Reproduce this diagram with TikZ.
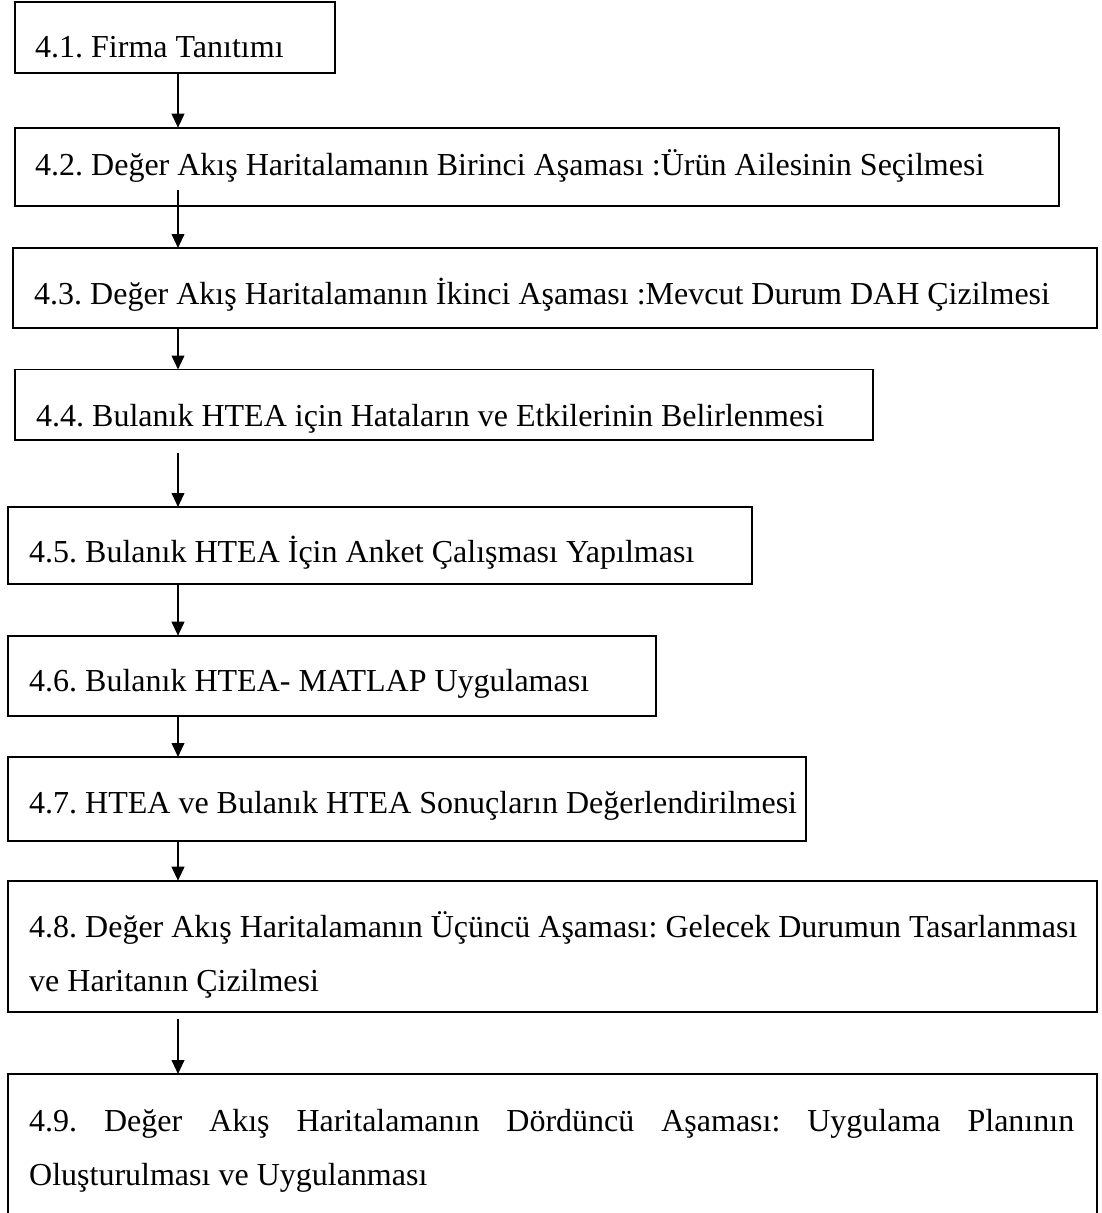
\documentclass[tikz,border=0pt]{standalone}
\usepackage{fontspec}
\setmainfont{Liberation Serif}
\frenchspacing
\usetikzlibrary{arrows.meta}
\tikzset{
	stepbox/.style={draw, line width=1.8pt, rectangle, anchor=north west, inner sep=0pt, outer sep=0pt},
	steptext/.style={anchor=base west, inner sep=0pt, font=\fontsize{32}{38}\selectfont},
	flow/.style={-{Triangle[width=12.7pt,length=14pt]}, line width=1.8pt}
}
\begin{document}
\begin{tikzpicture}[x=1pt,y=-1pt]
	\clip (0,0) rectangle (1101,1213);
			\def\ax{178}
			\coordinate (ax) at (\ax,0);

		\node[stepbox, minimum width=320pt, minimum height=70.7pt] (s1) at (15,2) {};
		\node[stepbox, minimum width=1044pt, minimum height=78pt] (s2) at (15,127.7) {};
		\node[stepbox, minimum width=1084pt, minimum height=79.7pt] (s3) at (12.7,248) {};
		\node[stepbox, minimum width=857.7pt, minimum height=70.5pt] (s4) at (15,369.5) {};
		\node[stepbox, minimum width=744pt, minimum height=77pt] (s5) at (7.7,507) {};
		\node[stepbox, minimum width=648pt, minimum height=80pt] (s6) at (7.7,635.7) {};
		\node[stepbox, minimum width=798pt, minimum height=84pt] (s7) at (7.7,757) {};
		\node[stepbox, minimum width=1089.3pt, minimum height=131pt] (s8) at (7.7,880.7) {};
		\node[stepbox, minimum width=1089pt, minimum height=160pt] (s9) at (7.7,1074) {};

		\node[steptext] (t1) at (35,57) {4.1. Firma Tanıtımı};
		\node[steptext] (t2) at (35,175) {4.2. Değer Akış Haritalamanın Birinci Aşaması :Ürün Ailesinin Seçilmesi};
		\node[steptext] (t3) at (34,304) {4.3. Değer Akış Haritalamanın İkinci Aşaması :Mevcut Durum DAH Çizilmesi};
		\node[steptext] (t4) at (36,426.7) {4.4. Bulanık HTEA için Hataların ve Etkilerinin Belirlenmesi};
		\node[steptext] (t5) at (29,562.7) {4.5. Bulanık HTEA İçin Anket Çalışması Yapılması};
		\node[steptext] (t6) at (29,691.7) {4.6. Bulanık HTEA- MATLAP Uygulaması};
		\node[steptext] (t7) at (29,813) {4.7. HTEA ve Bulanık HTEA Sonuçların Değerlendirilmesi};
		\node[steptext] (t8) at (29,937) {4.8. Değer Akış Haritalamanın Üçüncü Aşaması: Gelecek Durumun Tasarlanması};
		\node[steptext] (t8b) at (29,991.7) {ve Haritanın Çizilmesi};
		\node[steptext] (t9) at (29,1131.7) {\makebox[1045pt][s]{4.9. Değer Akış Haritalamanın Dördüncü Aşaması: Uygulama Planının}};
		\node[steptext] (t9b) at (29,1185) {Oluşturulması ve Uygulanması};

\draw[flow] (s1.south -| ax) -- (s2.north -| ax);
\draw[flow] ([yshift=15.7pt]s2.south -| ax) -- (s3.north -| ax);
\draw[flow] (s3.south -| ax) -- (s4.north -| ax);
\draw[flow] ([yshift=-12.7pt]s4.south -| ax) -- (s5.north -| ax);
\draw[flow] (s5.south -| ax) -- (s6.north -| ax);
\draw[flow] (s6.south -| ax) -- (s7.north -| ax);
\draw[flow] (s7.south -| ax) -- (s8.north -| ax);
\draw[flow] ([yshift=-7.3pt]s8.south -| ax) -- (s9.north -| ax);

	\end{tikzpicture}
\end{document}
